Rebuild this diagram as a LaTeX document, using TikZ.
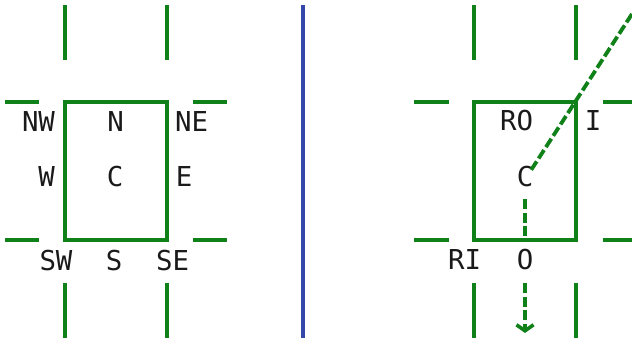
\documentclass[tikz,border=0pt]{standalone}
\usepackage{fontspec}
\setmonofont{DejaVu Sans Mono}
\usetikzlibrary{arrows.meta}
\definecolor{frame}{RGB}{16,128,24}
\definecolor{divider}{RGB}{52,70,168}
\definecolor{ink}{RGB}{26,26,26}
\begin{document}
\begin{tikzpicture}[x=1pt,y=-1pt,
  edge/.style={draw=frame,line width=3.8pt},
  guide/.style={draw=frame,line width=3.8pt},
  ray/.style={draw=frame,line width=3.8pt,dash pattern=on 10pt off 3.5pt},
  lbl/.style={font=\ttfamily\fontsize{27.4}{30}\selectfont,text=ink,anchor=base,
    text height=20pt,text depth=7pt,inner sep=2pt}]
\useasboundingbox (0,0) rectangle (632,341);
\clip (0,0) rectangle (632,341);

% left panel: box with its nine compass labels
\draw[edge] (65,102) rectangle (167,240);
\foreach \x in {65,167}{
  \draw[guide] (\x,5) -- (\x,60);
  \draw[guide] (\x,283) -- (\x,338);}
\foreach \y in {102,240}{
  \draw[guide] (5,\y) -- (38.5,\y);
  \draw[guide] (193,\y) -- (227,\y);}
\node[lbl] (nw) at (38.5,131) {NW};
\node[lbl] (n)  at (115.5,131) {N};
\node[lbl] (ne) at (191.5,131) {NE};
\node[lbl] (w)  at (46.5,186) {W};
\node[lbl] (c)  at (115,186) {C};
\node[lbl] (e)  at (184,186) {E};
\node[lbl] (sw) at (56,270) {SW};
\node[lbl] (s)  at (114,270) {S};
\node[lbl] (se) at (172.5,270) {SE};

% divider
\draw[draw=divider,line width=3.8pt] (303,5) -- (303,338);

% right panel: box with rays leaving the centre
\coordinate (rayend) at (641,0);
\coordinate (tip) at (525,333);
\node[lbl,inner ysep=-4pt] (rc) at (525,186) {C};
\node[lbl] (o) at (525,269.5) {O};
\draw[ray] (rc) -- (rayend);
\draw[ray,shorten <=10pt,shorten >=7.5pt] (rc.south) -- (o.north);
\draw[ray,shorten <=4.5pt,-{Straight Barb[length=6pt,width=17pt,line width=3.6pt]}] (o.south) -- (tip);
\draw[edge] (474,102) rectangle (576,240);
\foreach \x in {474,576}{
  \draw[guide] (\x,5) -- (\x,60);
  \draw[guide] (\x,283) -- (\x,338);}
\foreach \y in {102,240}{
  \draw[guide] (414,\y) -- (448.5,\y);
  \draw[guide] (603,\y) -- (632,\y);}
\node[lbl] (ro) at (516.5,130) {RO};
\node[lbl] (ii) at (593,130) {I};
\node[lbl] (ri) at (464.5,269.5) {RI};
\end{tikzpicture}
\end{document}
